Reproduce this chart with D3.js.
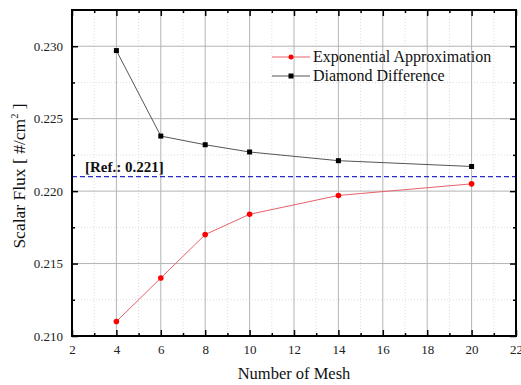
<!DOCTYPE html>
<html>
<head>
<meta charset="utf-8">
<script src="https://cdn.jsdelivr.net/npm/d3@7"></script>
<style>
  body { margin: 0; background: #fff; }
</style>
</head>
<body>
<svg id="chart" width="521" height="385"></svg>
<script>
// mesh counts
const meshes = [4, 6, 8, 10, 14, 20];
// scalar flux values
const expApprox = [0.2110, 0.2140, 0.2170, 0.2184, 0.2197, 0.2205];
const diamondDiff = [0.2297, 0.2238, 0.2232, 0.2227, 0.2221, 0.2217];
const refValue = 0.221;

const xMajorTicks = [2, 4, 6, 8, 10, 12, 14, 16, 18, 20, 22];
const xMinorTicks = [3, 5, 7, 9, 11, 13, 15, 17, 19, 21];
const yMajorTicks = [0.210, 0.215, 0.220, 0.225, 0.230];
const yMinorTicks = [0.2125, 0.2175, 0.2225, 0.2275];

const series = [
  {name: 'Exponential Approximation', values: expApprox, line: '#e8606a', marker: '#ff0000', shape: 'circle'},
  {name: 'Diamond Difference', values: diamondDiff, line: '#555555', marker: '#000000', shape: 'square'}
];

const serif = 'Liberation Serif, DejaVu Serif, serif';

const margin = {top: 10, right: 5, bottom: 49, left: 72};
const width = 521, height = 385;
const innerW = width - margin.left - margin.right;
const innerH = height - margin.top - margin.bottom;

const svg = d3.select('#chart').style('font-family', serif);
const g = svg.append('g').attr('transform', `translate(${margin.left},${margin.top})`);

const x = d3.scaleLinear().domain([2, 22]).range([0, innerW]);
const y = d3.scaleLinear().domain([0.210, 0.2325]).range([innerH, 0]);

// minor grid (dotted)
g.append('g').selectAll('line').data(xMinorTicks).join('line')
  .attr('x1', d => x(d)).attr('x2', d => x(d)).attr('y1', 0).attr('y2', innerH)
  .attr('stroke', '#dcdcdc').attr('stroke-dasharray', '1,2');
g.append('g').selectAll('line').data(yMinorTicks.concat([0.2325])).join('line')
  .attr('x1', 0).attr('x2', innerW).attr('y1', d => y(d)).attr('y2', d => y(d))
  .attr('stroke', '#dcdcdc').attr('stroke-dasharray', '1,2');

// major grid
g.append('g').selectAll('line').data(xMajorTicks.slice(1, -1)).join('line')
  .attr('x1', d => x(d)).attr('x2', d => x(d)).attr('y1', 0).attr('y2', innerH)
  .attr('stroke', '#b4b4b4');
g.append('g').selectAll('line').data(yMajorTicks.slice(1)).join('line')
  .attr('x1', 0).attr('x2', innerW).attr('y1', d => y(d)).attr('y2', d => y(d))
  .attr('stroke', '#b4b4b4');

// reference line
g.append('line')
  .attr('x1', 0).attr('x2', innerW).attr('y1', y(refValue)).attr('y2', y(refValue))
  .attr('stroke', '#2a2ad0').attr('stroke-width', 1.2).attr('stroke-dasharray', '5,3');
g.append('text')
  .attr('x', 13).attr('y', y(refValue) - 5)
  .style('font-family', serif)
  .attr('font-size', 15).attr('font-weight', 'bold').attr('fill', '#111')
  .text('[Ref.: 0.221]');

// series
const line = d3.line().x((d, i) => x(meshes[i])).y(d => y(d));
series.forEach(s => {
  g.append('path').datum(s.values)
    .attr('fill', 'none').attr('stroke', s.line).attr('stroke-width', 1).attr('d', line);
  if (s.shape === 'circle') {
    g.append('g').selectAll('circle').data(s.values).join('circle')
      .attr('cx', (d, i) => x(meshes[i])).attr('cy', d => y(d)).attr('r', 2.8)
      .attr('fill', s.marker);
  } else {
    g.append('g').selectAll('rect').data(s.values).join('rect')
      .attr('x', (d, i) => x(meshes[i]) - 2.5).attr('y', d => y(d) - 2.5)
      .attr('width', 5).attr('height', 5).attr('fill', s.marker);
  }
});

// axes: labelled bottom/left, inward ticks on all four sides
const fmt = d3.format('.3f');
const styleAxis = sel => {
  sel.attr('font-family', null);
  sel.select('.domain').remove();
  sel.selectAll('.tick line').attr('stroke', '#000').attr('stroke-width', 1.5);
  sel.selectAll('text').style('font-family', serif)
    .attr('font-size', 13).attr('fill', '#222');
};

g.append('g').attr('transform', `translate(0,${innerH})`)
  .call(d3.axisBottom(x).tickValues(xMajorTicks).tickSizeInner(-6).tickSizeOuter(0).tickPadding(9).tickFormat(d3.format('d')))
  .call(styleAxis);
g.append('g').attr('transform', `translate(0,${innerH})`)
  .call(d3.axisBottom(x).tickValues(xMinorTicks).tickSizeInner(-3).tickSizeOuter(0).tickFormat(''))
  .call(styleAxis);
g.append('g')
  .call(d3.axisTop(x).tickValues(xMajorTicks).tickSizeInner(-6).tickSizeOuter(0).tickFormat(''))
  .call(styleAxis);
g.append('g')
  .call(d3.axisTop(x).tickValues(xMinorTicks).tickSizeInner(-3).tickSizeOuter(0).tickFormat(''))
  .call(styleAxis);

g.append('g')
  .call(d3.axisLeft(y).tickValues(yMajorTicks).tickSizeInner(-6).tickSizeOuter(0).tickPadding(9).tickFormat(fmt))
  .call(styleAxis);
g.append('g')
  .call(d3.axisLeft(y).tickValues(yMinorTicks).tickSizeInner(-3).tickSizeOuter(0).tickFormat(''))
  .call(styleAxis);
g.append('g').attr('transform', `translate(${innerW},0)`)
  .call(d3.axisRight(y).tickValues(yMajorTicks).tickSizeInner(-6).tickSizeOuter(0).tickFormat(''))
  .call(styleAxis);
g.append('g').attr('transform', `translate(${innerW},0)`)
  .call(d3.axisRight(y).tickValues(yMinorTicks).tickSizeInner(-3).tickSizeOuter(0).tickFormat(''))
  .call(styleAxis);

// frame
g.append('rect').attr('width', innerW).attr('height', innerH)
  .attr('fill', 'none').attr('stroke', '#000').attr('stroke-width', 2);

// legend
const legend = g.append('g').attr('transform', 'translate(200,47)');
series.forEach((s, i) => {
  const row = legend.append('g').attr('transform', `translate(0,${i * 19})`);
  row.append('line').attr('x1', 0).attr('x2', 38).attr('y1', 0).attr('y2', 0)
    .attr('stroke', s.line).attr('stroke-width', 1);
  if (s.shape === 'circle') {
    row.append('circle').attr('cx', 19).attr('cy', 0).attr('r', 2.5).attr('fill', s.marker);
  } else {
    row.append('rect').attr('x', 16.5).attr('y', -2.5).attr('width', 5).attr('height', 5).attr('fill', s.marker);
  }
  row.append('text').attr('x', 41).attr('y', 5).style('font-family', serif)
    .attr('font-size', 16).attr('fill', '#111').text(s.name);
});

// axis titles
svg.append('text')
  .attr('x', margin.left + innerW / 2).attr('y', 379)
  .attr('text-anchor', 'middle').style('font-family', serif).attr('font-size', 16.5).attr('fill', '#111')
  .text('Number of Mesh');

const yTitle = svg.append('text')
  .attr('transform', `translate(25,176) rotate(-90)`)
  .attr('text-anchor', 'middle').style('font-family', serif).attr('font-size', 17.5).attr('fill', '#111');
yTitle.append('tspan').text('Scalar Flux [ #/cm');
yTitle.append('tspan').attr('font-size', 10.5).attr('dy', -7).text('2');
yTitle.append('tspan').attr('dy', 7).text(' ]');
</script>
</body>
</html>
